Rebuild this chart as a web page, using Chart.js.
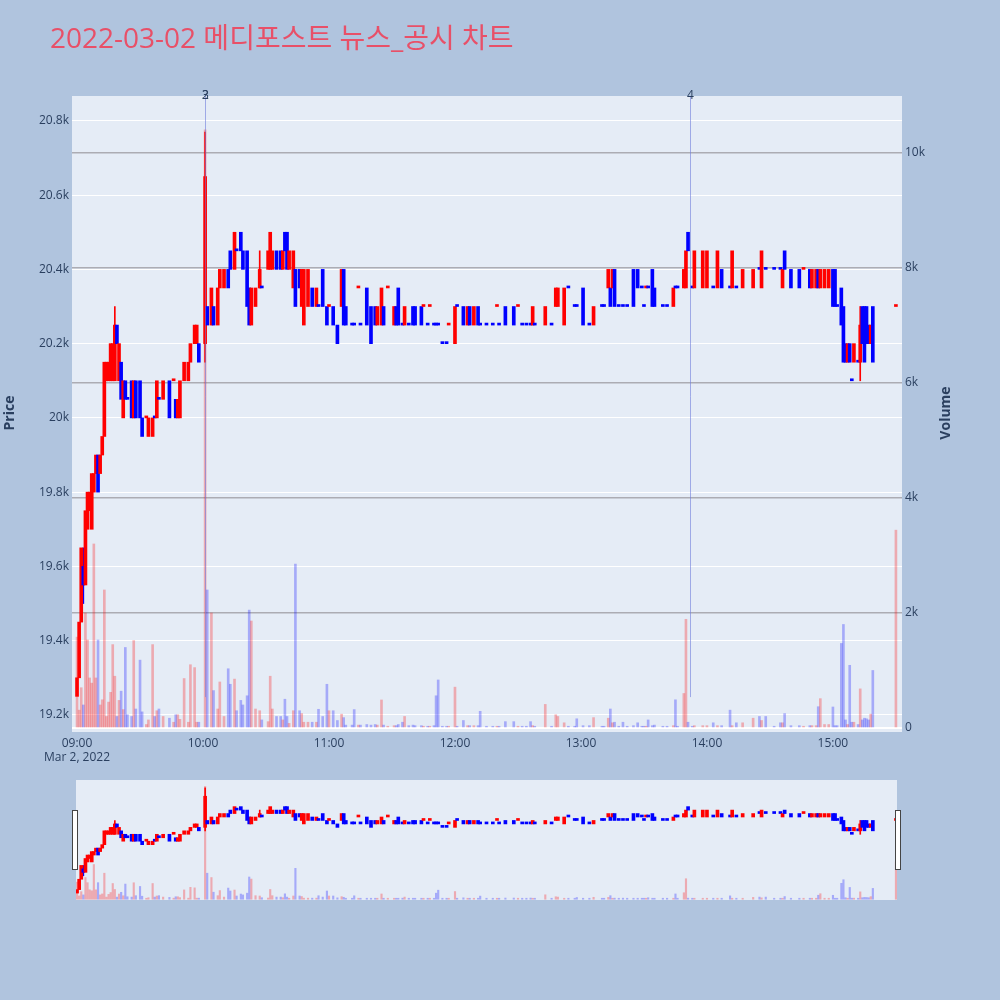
<!DOCTYPE html>
<html>
<head>
<meta charset="utf-8">
<script src="https://cdn.jsdelivr.net/npm/chart.js@4.4.1/dist/chart.umd.min.js"></script>
<style>
  body { margin: 0; background: #b0c4de; width: 1000px; height: 1000px; position: relative; overflow: hidden; }
  #main { position: absolute; left: 0; top: 0; }
  #slider { position: absolute; left: 76px; top: 780px; background: #e5ecf6; }
  .handle { position: absolute; top: 810px; width: 4px; height: 58px; background: #fff; border: 1px solid #444; }
</style>
</head>
<body>
<canvas id="main" width="1000" height="770"></canvas>
<canvas id="slider" width="821" height="120"></canvas>
<div class="handle" style="left:72px"></div>
<div class="handle" style="left:895px"></div>
<script>
// minutes after 09:00, one entry per traded minute
const minutes = [
  0, 1, 2, 3, 4, 5, 6, 7, 8, 9,
  10, 11, 12, 13, 14, 15, 16, 17, 18, 19,
  20, 21, 22, 23, 24, 26, 27, 28, 30, 31,
  33, 34, 36, 37, 38, 39, 41, 44, 46, 47,
  48, 49, 51, 53, 54, 56, 57, 58, 61, 62,
  64, 65, 67, 68, 70, 72, 73, 75, 76, 78,
  79, 81, 82, 83, 85, 87, 88, 91, 92, 93,
  95, 97, 98, 99, 100, 101, 103, 104, 106, 107,
  108, 110, 112, 114, 115, 117, 119, 120, 122, 124,
  126, 127, 128, 131, 132, 134, 135, 138, 140, 142,
  143, 145, 146, 148, 151, 152, 153, 155, 156, 158,
  160, 161, 164, 165, 167, 168, 170, 171, 172, 174,
  176, 177, 180, 181, 184, 186, 187, 189, 191, 192,
  195, 198, 200, 201, 204, 208, 210, 212, 214, 216,
  217, 218, 223, 226, 228, 229, 232, 234, 237, 238,
  241, 244, 246, 250, 251, 253, 254, 255, 256, 258,
  260, 262, 265, 267, 269, 270, 271, 272, 274, 275,
  279, 281, 284, 285, 286, 289, 290, 291, 293, 294,
  298, 300, 303, 305, 307, 311, 312, 314, 317, 322,
  325, 326, 328, 332, 335, 336, 337, 340, 344, 346,
  349, 350, 352, 353, 354, 356, 358, 360, 361, 362,
  364, 365, 366, 367, 368, 369, 370, 372, 373, 374,
  375, 376, 377, 378, 379, 390
];
const opens = [
  19250, 19300, 19450, 19600, 19550, 19700, 19750, 19700, 19800, 19850,
  19900, 19850, 19900, 19950, 20100, 20100, 20100, 20100, 20100, 20250,
  20100, 20150, 20000, 20100, 20050, 20100, 20000, 20100, 20100, 20000,
  20000, 19950, 19950, 20000, 20000, 20050, 20050, 20100, 20100, 20050,
  20000, 20000, 20100, 20100, 20150, 20200, 20200, 20200, 20200, 20300,
  20250, 20300, 20250, 20350, 20350, 20400, 20450, 20400, 20450, 20500,
  20450, 20450, 20350, 20250, 20300, 20350, 20350, 20400, 20400, 20400,
  20450, 20450, 20400, 20500, 20500, 20400, 20350, 20400, 20400, 20300,
  20250, 20300, 20350, 20300, 20300, 20400, 20300, 20300, 20300, 20250,
  20300, 20400, 20300, 20250, 20250, 20350, 20250, 20350, 20300, 20300,
  20250, 20250, 20300, 20350, 20250, 20300, 20350, 20250, 20250, 20250,
  20300, 20300, 20300, 20300, 20250, 20300, 20250, 20250, 20250, 20200,
  20200, 20250, 20200, 20300, 20300, 20250, 20300, 20250, 20300, 20250,
  20250, 20250, 20300, 20250, 20300, 20300, 20300, 20250, 20250, 20250,
  20250, 20250, 20250, 20250, 20300, 20300, 20250, 20350, 20300, 20300,
  20350, 20250, 20250, 20300, 20300, 20350, 20350, 20350, 20400, 20300,
  20300, 20300, 20400, 20400, 20350, 20300, 20350, 20350, 20400, 20350,
  20300, 20300, 20300, 20350, 20350, 20350, 20350, 20500, 20350, 20350,
  20350, 20350, 20350, 20350, 20400, 20350, 20350, 20350, 20350, 20350,
  20400, 20350, 20400, 20400, 20400, 20350, 20450, 20400, 20400, 20400,
  20400, 20350, 20350, 20400, 20350, 20350, 20350, 20400, 20400, 20300,
  20350, 20300, 20200, 20150, 20200, 20100, 20150, 20150, 20150, 20300,
  20300, 20300, 20250, 20200, 20300, 20300
];
const closes = [
  19300, 19450, 19650, 19550, 19750, 19800, 19800, 19850, 19850, 19900,
  19800, 19900, 19950, 20150, 20150, 20150, 20200, 20200, 20250, 20200,
  20200, 20050, 20100, 20050, 20050, 20000, 20100, 20000, 20000, 19950,
  20000, 20000, 20000, 20000, 20100, 20050, 20100, 20000, 20100, 20000,
  20050, 20100, 20150, 20150, 20200, 20250, 20250, 20150, 20650, 20250,
  20350, 20250, 20350, 20400, 20400, 20350, 20400, 20500, 20450, 20450,
  20400, 20300, 20250, 20350, 20350, 20400, 20350, 20450, 20500, 20450,
  20400, 20400, 20450, 20450, 20400, 20450, 20450, 20300, 20350, 20400,
  20400, 20400, 20300, 20350, 20300, 20300, 20250, 20300, 20250, 20200,
  20400, 20250, 20250, 20250, 20250, 20350, 20250, 20250, 20200, 20250,
  20300, 20350, 20250, 20350, 20300, 20250, 20250, 20250, 20300, 20250,
  20250, 20250, 20250, 20300, 20250, 20300, 20250, 20250, 20250, 20200,
  20200, 20250, 20300, 20300, 20250, 20300, 20250, 20300, 20250, 20250,
  20250, 20250, 20300, 20250, 20250, 20250, 20300, 20250, 20250, 20250,
  20300, 20250, 20300, 20250, 20350, 20350, 20350, 20350, 20300, 20300,
  20250, 20250, 20300, 20300, 20300, 20400, 20300, 20400, 20300, 20300,
  20300, 20300, 20300, 20350, 20350, 20300, 20350, 20350, 20300, 20300,
  20300, 20300, 20350, 20350, 20350, 20400, 20450, 20450, 20350, 20450,
  20450, 20450, 20350, 20450, 20350, 20350, 20450, 20350, 20400, 20400,
  20400, 20450, 20400, 20400, 20400, 20400, 20400, 20350, 20350, 20400,
  20350, 20400, 20400, 20350, 20400, 20400, 20400, 20300, 20300, 20300,
  20250, 20150, 20150, 20200, 20150, 20100, 20200, 20150, 20250, 20200,
  20150, 20200, 20200, 20250, 20150, 20300
];
const volumes = [
  1580, 310, 700, 400, 2000, 1530, 870, 780, 3200, 870,
  1530, 400, 490, 2400, 200, 450, 620, 1450, 900, 200,
  480, 640, 320, 1400, 230, 200, 1520, 330, 1180, 280,
  60, 140, 1450, 200, 300, 330, 200, 170, 100, 230,
  230, 150, 860, 100, 1100, 1050, 100, 100, 10400, 2400,
  2000, 650, 330, 800, 200, 1030, 760, 850, 300, 480,
  400, 560, 2050, 1860, 330, 300, 140, 110, 900, 330,
  200, 200, 140, 500, 200, 80, 300, 2850, 300, 250,
  100, 100, 100, 100, 325, 200, 760, 300, 300, 130,
  240, 180, 50, 50, 320, 50, 50, 60, 50, 60,
  50, 487, 50, 30, 40, 40, 60, 100, 200, 40,
  50, 40, 40, 30, 30, 30, 40, 560, 835, 30,
  30, 30, 710, 30, 130, 40, 40, 40, 40, 290,
  30, 30, 30, 30, 110, 110, 30, 30, 30, 110,
  40, 30, 410, 30, 230, 200, 90, 30, 30, 160,
  40, 40, 180, 30, 30, 170, 330, 90, 100, 30,
  100, 30, 40, 90, 30, 30, 30, 140, 40, 50,
  30, 30, 40, 490, 30, 600, 1890, 100, 30, 40,
  40, 40, 90, 40, 40, 310, 40, 90, 90, 170,
  200, 130, 200, 30, 90, 90, 250, 40, 40, 30,
  40, 40, 40, 370, 510, 60, 60, 365, 40, 40,
  1470, 1800, 140, 60, 1090, 100, 100, 60, 680, 140,
  170, 160, 140, 240, 1000, 3440
];
// candles whose high/low reach beyond the body
const wickMinutes = [3, 18, 61, 87, 373];
const wickHighs = [19650, 20300, 20770, 20450, 20300];
const wickLows = [19500, 20100, 20150, 20350, 20100];
// news / disclosure markers
const markerMinutes = [61, 292];
const markerLabels = [['2', '3'], ['4']];
// axis ticks
const timeTicks = [0, 60, 120, 180, 240, 300, 360];
const priceTicks = [19200, 19400, 19600, 19800, 20000, 20200, 20400, 20600, 20800];
const volumeTicks = [0, 2000, 4000, 6000, 8000, 10000];

const UP = '#ff0000', DOWN = '#0000ff';
const UP_VOL = 'rgba(255,0,0,0.28)', DOWN_VOL = 'rgba(0,0,255,0.28)';
const TEXT = '#2a3f5f';
const FONT = '"Open Sans", sans-serif';

const isUp = minutes.map((m, i) => {
    if (closes[i] !== opens[i]) return closes[i] > opens[i];
    return i > 0 && closes[i] > closes[i - 1];
});

const bodyData = minutes.map((m, i) => ({x: m, y: [opens[i], closes[i]]}));
const volData = minutes.map((m, i) => ({x: m, y: volumes[i]}));
const wickData = wickMinutes.map((m, i) => ({x: m, y: [wickLows[i], wickHighs[i]]}));
const bodyColors = isUp.map(u => u ? UP : DOWN);
const volColors = isUp.map(u => u ? UP_VOL : DOWN_VOL);
const wickColors = wickMinutes.map(m => isUp[minutes.indexOf(m)] ? UP : DOWN);

function makeDatasets(bodyW, wickW, volW) {
    return [
        { data: bodyData, backgroundColor: bodyColors, barThickness: bodyW, minBarLength: 2,
          grouped: false, yAxisID: 'price', order: 1 },
        { data: wickData, backgroundColor: wickColors, barThickness: wickW,
          grouped: false, yAxisID: 'price', order: 2 },
        { data: volData, backgroundColor: volColors, barThickness: volW, minBarLength: 1,
          grouped: false, yAxisID: 'volume', order: 3 }
    ];
}

const fixTicks = values => scale => { scale.ticks = values.map(v => ({value: v})); };

const plotBg = {
    id: 'plotBg',
    beforeDraw(chart) {
        const {ctx, chartArea: a} = chart;
        ctx.save();
        ctx.fillStyle = '#e5ecf6';
        ctx.fillRect(a.left, a.top, a.right - a.left, a.bottom - a.top);
        ctx.restore();
    }
};

const decorations = {
    id: 'decorations',
    afterDatasetsDraw(chart) {
        const {ctx, chartArea: a, scales} = chart;
        ctx.save();
        markerMinutes.forEach((m, i) => {
            const x = Math.round(scales.x.getPixelForValue(m)) + 0.5;
            ctx.strokeStyle = 'rgba(110,125,220,0.6)';
            ctx.lineWidth = 1;
            ctx.beginPath();
            ctx.moveTo(x, a.top);
            ctx.lineTo(x, scales.price.getPixelForValue(19248));
            ctx.stroke();
            ctx.fillStyle = TEXT;
            ctx.font = '12px ' + FONT;
            ctx.textAlign = 'center';
            ctx.textBaseline = 'bottom';
            markerLabels[i].forEach(t => ctx.fillText(t, x, a.top + 6));
        });
        ctx.restore();
    },
    afterDraw(chart) {
        const {ctx} = chart;
        ctx.save();
        ctx.fillStyle = 'rgb(232,80,104)';
        ctx.font = '28px "Open Sans", "Noto Sans CJK KR", sans-serif';
        ctx.textBaseline = 'middle';
        ctx.textAlign = 'left';
        ctx.fillText('2022-03-02 메디포스트 뉴스_공시 차트', 50, 40);

        ctx.fillStyle = TEXT;
        ctx.font = 'bold 14px ' + FONT;
        ctx.textAlign = 'center';
        ctx.translate(10, 413);
        ctx.rotate(-Math.PI / 2);
        ctx.fillText('Price', 0, 0);
        ctx.rotate(Math.PI / 2);
        ctx.translate(936, 0);
        ctx.rotate(-Math.PI / 2);
        ctx.fillText('Volume', 0, 0);
        ctx.restore();
    }
};

function timeLabel(v) {
    const h = String(9 + Math.floor(v / 60)).padStart(2, '0');
    const mm = String(v % 60).padStart(2, '0');
    const s = h + ':' + mm;
    return v === 0 ? [s, 'Mar 2, 2022'] : s;
}

new Chart(document.getElementById('main'), {
    type: 'bar',
    data: { datasets: makeDatasets(3, 1, 2) },
    plugins: [plotBg, decorations],
    options: {
        responsive: false,
        animation: false,
        layout: { padding: { top: 96, left: 0, right: 0, bottom: 0 } },
        plugins: { legend: { display: false }, tooltip: { enabled: false } },
        scales: {
            x: {
                type: 'linear', min: -2.4, max: 392.9, offset: false,
                grid: { display: false, drawTicks: false },
                border: { display: false },
                afterBuildTicks: fixTicks(timeTicks),
                ticks: {
                    padding: 4, autoSkip: false, maxRotation: 0,
                    color: TEXT, font: { family: FONT, size: 12 },
                    callback: timeLabel
                },
                afterFit(s) { s.height = 38; }
            },
            price: {
                position: 'left', min: 19154, max: 20867,
                grid: { color: '#ffffff', lineWidth: 1, drawTicks: false },
                border: { display: false },
                afterBuildTicks: fixTicks(priceTicks),
                ticks: {
                    padding: 3, color: TEXT, font: { family: FONT, size: 12 },
                    callback: v => (v / 1000) + 'k'
                },
                afterFit(s) { s.width = 72; }
            },
            volume: {
                position: 'right', min: -70, max: 10990,
                grid: {
                    color: c => (c.tick && c.tick.value === 0) ? '#ffffff' : '#acacb3',
                    lineWidth: c => (c.tick && c.tick.value === 0) ? 2 : 1.5,
                    drawTicks: false
                },
                border: { display: false },
                afterBuildTicks: fixTicks(volumeTicks),
                ticks: {
                    padding: 3, color: TEXT, font: { family: FONT, size: 12 },
                    callback: v => v === 0 ? '0' : (v / 1000) + 'k'
                },
                afterFit(s) { s.width = 98; }
            }
        }
    }
});

new Chart(document.getElementById('slider'), {
    type: 'bar',
    data: { datasets: makeDatasets(3, 1, 1.5) },
    options: {
        responsive: false,
        animation: false,
        layout: { padding: 0 },
        plugins: { legend: { display: false }, tooltip: { enabled: false } },
        scales: {
            x: { type: 'linear', min: -0.5, max: 390.5, offset: false, display: false },
            price: { position: 'left', min: 19150, max: 20885, display: false },
            volume: { position: 'right', min: -70, max: 10990, display: false }
        }
    }
});
</script>
</body>
</html>
